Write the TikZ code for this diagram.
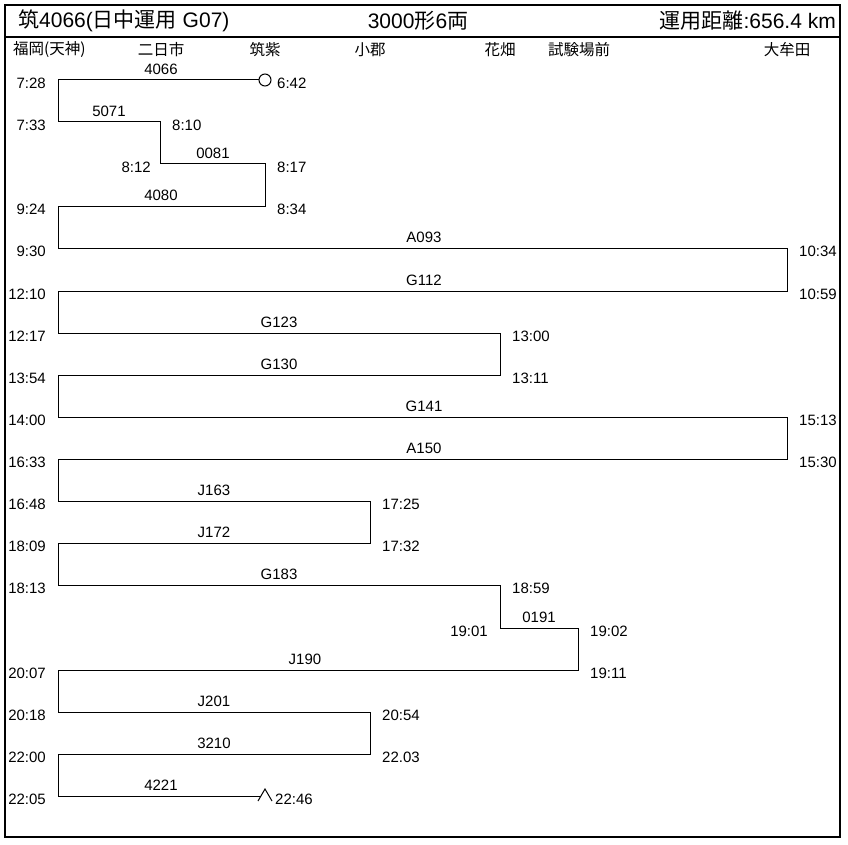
\documentclass[tikz,border=0pt]{standalone}
\usepackage{fontspec}
\setmainfont{Liberation Sans}
\newfontfamily\jp{Noto Sans CJK JP}

\begin{document}
\begin{tikzpicture}[x=1pt, y=-1pt,
    lbl/.style={inner sep=0pt, font=\fontsize{15}{17}\selectfont},
    tleft/.style={lbl, anchor=east},
    tright/.style={lbl, anchor=west},
    train/.style={lbl},
    station/.style={inner sep=0pt, font=\jp\fontsize{15.5}{18}\selectfont},
    head/.style={inner sep=0pt, font=\fontsize{21}{24}\selectfont},
    route/.style={line width=1pt}]

  \useasboundingbox (0,0) rectangle (848,845);

  % Frame
  \draw[line width=1.4pt] (5,5) rectangle (840,837);
  \draw[line width=1.4pt] (5,37) -- (840,37);

  % Header
  \node[head, anchor=west] (title) at (18,21) {{\jp 筑}4066({\jp 日中運用} G07)};
  \node[head] (cars) at (418,21) {3000{\jp 形}6{\jp 両}};
  \node[head, anchor=east] (dist) at (836,21) {{\jp 運用距離}:656.4 km};

  % Stations
  \node[station, anchor=west] (fukuoka) at (13,50) {福岡(天神)};
  \node[station] (futsukaichi) at (161,50) {二日市};
  \node[station] (chikushi) at (265,50) {筑紫};
  \node[station] (ogori) at (370,50) {小郡};
  \node[station] (hanabatake) at (500,50) {花畑};
  \node[station] (shikenjo) at (579,50) {試験場前};
  \node[station] (omuta) at (787,50) {大牟田};

  % Route
  \node[circle, draw, line width=1pt, minimum size=12pt, inner sep=0pt] (start) at (265,80) {};
  \coordinate (stop) at (260,796);
  \draw[route] (start.west) -- (58,80) |- (160,122) |- (265,164) |- (58,206)
    |- (787,248) |- (58,291) |- (500,333) |- (58,375) |- (787,417) |- (58,459)
    |- (370,501) |- (58,543) |- (500,585) |- (578,628) |- (58,670) |- (370,712)
    |- (58,754) |- (stop);
  \draw[route] (258,801) -- (265,789) -- (272,801);

  % Train numbers
  \node[train] (n4066) at (161,69) {4066};
  \node[train] (n5071) at (109,111) {5071};
  \node[train] (n0081) at (213,153) {0081};
  \node[train] (n4080) at (161,195) {4080};
  \node[train] (nA093) at (424,237) {A093};
  \node[train] (nG112) at (424,280) {G112};
  \node[train] (nG123) at (279,322) {G123};
  \node[train] (nG130) at (279,364) {G130};
  \node[train] (nG141) at (424,406) {G141};
  \node[train] (nA150) at (424,448) {A150};
  \node[train] (nJ163) at (214,490) {J163};
  \node[train] (nJ172) at (214,532) {J172};
  \node[train] (nG183) at (279,574) {G183};
  \node[train] (n0191) at (539,617) {0191};
  \node[train] (nJ190) at (305,659) {J190};
  \node[train] (nJ201) at (214,701) {J201};
  \node[train] (n3210) at (214,743) {3210};
  \node[train] (n4221) at (161,785) {4221};

  % Times, Fukuoka side
  \node[tleft] (t0728) at (46,83) {7:28};
  \node[tleft] (t0733) at (46,125) {7:33};
  \node[tleft] (t0924) at (46,209) {9:24};
  \node[tleft] (t0930) at (46,251) {9:30};
  \node[tleft] (t1210) at (46,294) {12:10};
  \node[tleft] (t1217) at (46,336) {12:17};
  \node[tleft] (t1354) at (46,378) {13:54};
  \node[tleft] (t1400) at (46,420) {14:00};
  \node[tleft] (t1633) at (46,462) {16:33};
  \node[tleft] (t1648) at (46,504) {16:48};
  \node[tleft] (t1809) at (46,546) {18:09};
  \node[tleft] (t1813) at (46,588) {18:13};
  \node[tleft] (t2007) at (46,673) {20:07};
  \node[tleft] (t2018) at (46,715) {20:18};
  \node[tleft] (t2200) at (46,757) {22:00};
  \node[tleft] (t2205) at (46,799) {22:05};

  % Times, other turning points
  \node[tright] (t0642) at (277,83) {6:42};
  \node[tright] (t0810) at (172,125) {8:10};
  \node[tleft] (t0812) at (151,167) {8:12};
  \node[tright] (t0817) at (277,167) {8:17};
  \node[tright] (t0834) at (277,209) {8:34};
  \node[tright] (t1034) at (799,251) {10:34};
  \node[tright] (t1059) at (799,294) {10:59};
  \node[tright] (t1300) at (512,336) {13:00};
  \node[tright] (t1311) at (512,378) {13:11};
  \node[tright] (t1513) at (799,420) {15:13};
  \node[tright] (t1530) at (799,462) {15:30};
  \node[tright] (t1725) at (382,504) {17:25};
  \node[tright] (t1732) at (382,546) {17:32};
  \node[tright] (t1859) at (512,588) {18:59};
  \node[tleft] (t1901) at (488,631) {19:01};
  \node[tright] (t1902) at (590,631) {19:02};
  \node[tright] (t1911) at (590,673) {19:11};
  \node[tright] (t2054) at (382,715) {20:54};
  \node[tright] (t2203) at (382,757) {22.03};
  \node[tright] (t2246) at (275,799) {22:46};

\end{tikzpicture}
\end{document}
